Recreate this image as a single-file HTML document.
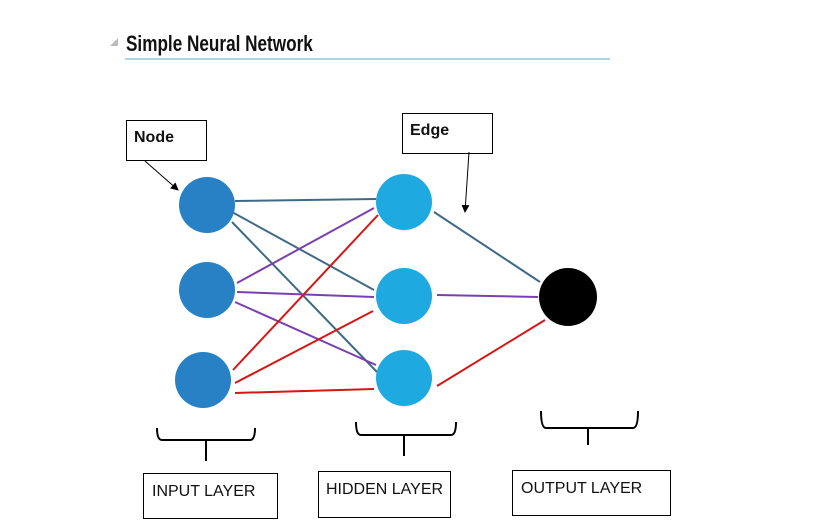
<!DOCTYPE html>
<html><head><meta charset="utf-8"><style>
html,body{margin:0;padding:0;background:#fff;width:819px;height:531px;overflow:hidden}
svg{display:block}
text{font-family:"Liberation Sans",sans-serif}
</style></head><body>
<svg width="819" height="531" viewBox="0 0 819 531" xmlns="http://www.w3.org/2000/svg">
<defs><marker id="a" markerWidth="8" markerHeight="8" refX="7" refY="4" orient="auto"><path d="M0,0 L8,4 L0,8z" fill="#000"/></marker></defs>
<path d="M110,46 L118,38 L118,46z" fill="#bbb"/>
<text x="126" y="51" font-size="22" font-weight="bold" transform="translate(126 0) scale(0.78 1) translate(-126 0)" fill="#111">Simple Neural Network</text>
<line x1="125" y1="59" x2="610" y2="59" stroke="#5aa8d0" stroke-width="1"/>
<rect x="126.5" y="120.5" width="80" height="40" fill="#fff" stroke="#000"/>
<text x="134" y="142" font-size="16" font-weight="bold" fill="#111">Node</text>
<rect x="402.5" y="113.5" width="90" height="40" fill="#fff" stroke="#000"/>
<text x="410" y="135" font-size="16" font-weight="bold" fill="#111">Edge</text>
<line x1="145" y1="161" x2="178" y2="190" stroke="#000" marker-end="url(#a)"/>
<line x1="469" y1="152" x2="465" y2="212" stroke="#000" marker-end="url(#a)"/>
<g stroke-width="2" fill="none">
<g stroke="#3f6a86">
<line x1="235" y1="201" x2="376" y2="199"/>
<line x1="232" y1="212" x2="374" y2="290"/>
<line x1="232" y1="222" x2="377" y2="372"/>
<line x1="434" y1="212" x2="540" y2="282"/>
</g>
<g stroke="#7a3fb0">
<line x1="237" y1="283" x2="374" y2="208"/>
<line x1="237" y1="292" x2="374" y2="297"/>
<line x1="235" y1="302" x2="376" y2="365"/>
<line x1="437" y1="295" x2="538" y2="297"/>
</g>
<g stroke="#d61515">
<line x1="233" y1="370" x2="378" y2="215"/>
<line x1="235" y1="383" x2="373" y2="311"/>
<line x1="235" y1="393" x2="374" y2="389"/>
<line x1="437" y1="386" x2="545" y2="320"/>
</g>
</g>
<g fill="#2880c5"><circle cx="207" cy="205" r="28"/><circle cx="207" cy="290" r="28"/><circle cx="203" cy="380" r="28"/></g>
<g fill="#1ea9e1"><circle cx="404" cy="202" r="28"/><circle cx="404" cy="296" r="28"/><circle cx="404" cy="378" r="28"/></g>
<circle cx="568" cy="297" r="29" fill="#000"/>
<g stroke="#000" stroke-width="2" fill="none">
<path d="M157,428 Q157,440 162,440 L250,440 Q255,440 255,428 M206,440 L206,461"/>
<path d="M356,422 Q356,435 361,435 L451,435 Q456,435 456,422 M404,435 L404,456"/>
<path d="M541,411 Q541,428 546,428 L633,428 Q638,428 638,411 M588,428 L588,445"/>
</g>
<rect x="143.5" y="473.5" width="134" height="45" fill="#fff" stroke="#000"/>
<text x="152" y="496" font-size="16" fill="#111">INPUT LAYER</text>
<rect x="318.5" y="471.5" width="132" height="46" fill="#fff" stroke="#000"/>
<text x="326" y="494" font-size="16" fill="#111">HIDDEN LAYER</text>
<rect x="512.5" y="470.5" width="158" height="45" fill="#fff" stroke="#000"/>
<text x="521" y="493" font-size="16" fill="#111">OUTPUT LAYER</text>
</svg>
</body></html>
